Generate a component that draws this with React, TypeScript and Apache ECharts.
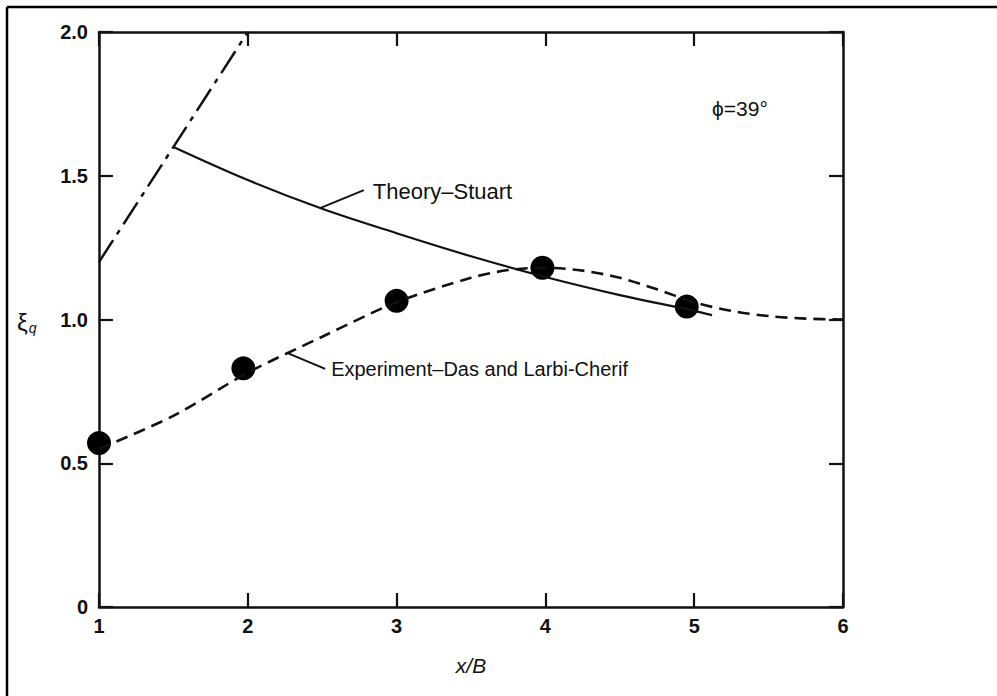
import React, { useEffect, useRef } from 'react';
import * as echarts from 'echarts';

// ---- data ----
const xTickLabels = ['1', '2', '3', '4', '5', '6'];
const yTickLabels = ['0', '0.5', '1.0', '1.5', '2.0'];

// Experiment – Das and Larbi-Cherif (measured points)
const expPointsX = [1.0, 1.97, 3.0, 3.98, 4.95];
const expPointsY = [0.57, 0.83, 1.065, 1.18, 1.045];

// Experiment fitted (dashed) curve
const expCurveX = [1.0, 1.5, 2.0, 2.5, 3.0, 3.5, 3.75, 4.0, 4.25, 4.5, 4.75, 5.0, 5.25, 5.5, 5.75, 6.0];
const expCurveY = [0.55, 0.665, 0.815, 0.94, 1.06, 1.145, 1.172, 1.18, 1.17, 1.145, 1.105, 1.06, 1.03, 1.012, 1.003, 1.0];

// Theory – Stuart (solid)
const theoryX = [1.5, 2.0, 2.5, 3.0, 3.5, 4.0, 4.5, 5.0, 5.12];
const theoryY = [1.6, 1.485, 1.385, 1.3, 1.22, 1.148, 1.085, 1.03, 1.015];

// dash-dot branch
const branchX = [1.0, 2.0];
const branchY = [1.2, 2.0];

// annotations (data coordinates)
const theoryLeader = [[2.49, 1.388], [2.78, 1.45]];
const theoryLabelAt = [2.84, 1.445];
const expLeader = [[2.26, 0.885], [2.52, 0.828]];
const expLabelAt = [2.56, 0.828];
const phiLabelAt = [5.12, 1.735];

const zip = (xs: number[], ys: number[]) => xs.map((x, i) => [x, ys[i]]);

const FONT = '"Liberation Sans", Arial, Helvetica, sans-serif';
const INK = '#111';

export default function App() {
  const ref = useRef<HTMLDivElement>(null);

  useEffect(() => {
    if (!ref.current) return;
    const chart = echarts.init(ref.current, undefined, { renderer: 'svg' });

    const axisLine = { show: true, onZero: false, lineStyle: { color: INK, width: 2.5 } };
    const axisTick = { show: true, inside: true, length: 14, lineStyle: { color: INK, width: 2.2 } };

    chart.setOption({
      animation: false,
      backgroundColor: '#fff',
      grid: { left: 99, top: 32, right: 154, bottom: 89, containLabel: false },
      xAxis: [
        {
          type: 'value', min: 1, max: 6, interval: 1, position: 'bottom',
          axisLine, axisTick, splitLine: { show: false },
          axisLabel: {
            show: true, margin: 9, color: INK, fontSize: 20, fontWeight: 'bold', fontFamily: FONT,
            formatter: (v: number) => xTickLabels[Math.round(v) - 1] ?? '',
          },
        },
        {
          type: 'value', min: 1, max: 6, interval: 1, position: 'top',
          axisLine, axisTick, splitLine: { show: false }, axisLabel: { show: false },
        },
      ],
      yAxis: [
        {
          type: 'value', min: 0, max: 2, interval: 0.5, position: 'left',
          axisLine, axisTick, splitLine: { show: false },
          axisLabel: {
            show: true, margin: 11, color: INK, fontSize: 20, fontWeight: 'bold', fontFamily: FONT,
            formatter: (v: number) => yTickLabels[Math.round(v / 0.5)] ?? '',
          },
        },
        {
          type: 'value', min: 0, max: 2, interval: 0.5, position: 'right',
          axisLine, axisTick, splitLine: { show: false }, axisLabel: { show: false },
        },
      ],
      series: [
        {
          type: 'line', data: zip(branchX, branchY), symbol: 'none', smooth: false,
          lineStyle: { color: INK, width: 2.5, type: [26, 7, 5, 7] },
        },
        {
          type: 'line', data: zip(theoryX, theoryY), symbol: 'none', smooth: 0.35,
          lineStyle: { color: INK, width: 2.2, type: 'solid' },
        },
        {
          type: 'line', data: zip(expCurveX, expCurveY), symbol: 'none', smooth: 0.3,
          lineStyle: { color: INK, width: 2.6, type: [12, 7] },
        },
        {
          type: 'scatter', data: zip(expPointsX, expPointsY), symbol: 'circle', symbolSize: 24,
          itemStyle: { color: '#000', opacity: 1 },
        },
      ],
    });

    const px = (p: number[]) => chart.convertToPixel({ gridIndex: 0 }, p) as number[];
    const t1 = px(theoryLeader[0]);
    const t2 = px(theoryLeader[1]);
    const tl = px(theoryLabelAt);
    const e1 = px(expLeader[0]);
    const e2 = px(expLeader[1]);
    const el = px(expLabelAt);
    const pl = px(phiLabelAt);

    chart.setOption({
      graphic: [
        { type: 'line', shape: { x1: 7, y1: 7, x2: 997, y2: 7 }, style: { stroke: '#000', lineWidth: 2.5 } },
        { type: 'line', shape: { x1: 7, y1: 7, x2: 7, y2: 696 }, style: { stroke: '#000', lineWidth: 2.5 } },
        { type: 'line', shape: { x1: t1[0], y1: t1[1], x2: t2[0], y2: t2[1] }, style: { stroke: INK, lineWidth: 2 } },
        { type: 'line', shape: { x1: e1[0], y1: e1[1], x2: e2[0], y2: e2[1] }, style: { stroke: INK, lineWidth: 2 } },
        {
          type: 'text', x: tl[0], y: tl[1],
          style: { text: 'Theory–Stuart', fill: INK, font: `22px ${FONT}`, textVerticalAlign: 'middle', textAlign: 'left' },
        },
        {
          type: 'text', x: el[0], y: el[1],
          style: { text: 'Experiment–Das and Larbi-Cherif', fill: INK, font: `20px ${FONT}`, textVerticalAlign: 'middle', textAlign: 'left' },
        },
        {
          type: 'text', x: pl[0], y: pl[1],
          style: { text: 'ϕ=39°', fill: INK, font: `21px ${FONT}`, textVerticalAlign: 'middle', textAlign: 'left' },
        },
        {
          type: 'text', x: 471, y: 665,
          style: { text: 'x/B', fill: INK, font: `italic 21px ${FONT}`, textVerticalAlign: 'middle', textAlign: 'center' },
        },
        {
          type: 'text', x: 17, y: 322,
          style: {
            text: '{a|ξ}{b|q}', textVerticalAlign: 'middle', textAlign: 'left',
            rich: {
              a: { fontSize: 24, fontFamily: FONT, fill: INK, color: INK },
              b: { fontSize: 14, fontFamily: FONT, fontStyle: 'italic', fill: INK, color: INK, padding: [12, 0, 0, 1] },
            },
          },
        },
      ],
    });

    return () => chart.dispose();
  }, []);

  return (
    <div
      ref={ref}
      style={{ position: 'fixed', left: 0, top: 0, width: 997, height: 696, background: '#fff' }}
    />
  );
}
